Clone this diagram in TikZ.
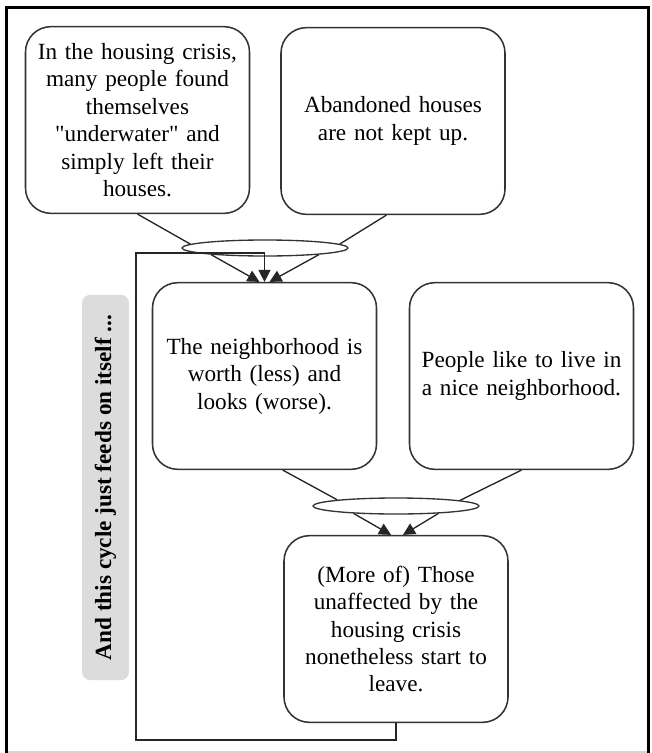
\documentclass[tikz,border=0pt]{standalone}
\usepackage{fontspec}
\setmainfont{Liberation Serif}[Ligatures=TeXOff]
\usetikzlibrary{arrows.meta,shapes.geometric,calc}
\definecolor{boxline}{HTML}{333333}
\definecolor{labelgray}{HTML}{DCDCDC}
\definecolor{edgegray}{HTML}{D6D6D6}
\begin{document}
\begin{tikzpicture}[x=0.75pt,y=-0.75pt,
  box/.style={draw=boxline, line width=1.15pt, rounded corners=19pt,
    minimum width=168pt, minimum height=140pt, text width=165pt,
    align=center, inner sep=0pt, font=\fontsize{17.4pt}{20.6pt}\selectfont},
  joint/.style={ellipse, draw=boxline, line width=1pt, fill=white,
    minimum width=124.5pt, minimum height=12pt, inner sep=0pt},
  link/.style={draw=black!85, line width=1pt},
  arr/.style={link, -{Triangle[length=9pt,width=9pt]}},
  note/.style={fill=labelgray, rounded corners=6pt, inner sep=0pt,
    minimum width=289pt, minimum height=35pt,
    font=\fontsize{17.4pt}{20.6pt}\selectfont\bfseries},
]
% canvas
\fill[white] (0,0) rectangle (651,753);
\useasboundingbox (0,0) rectangle (651,753);

% outer frame
\draw[edgegray, line width=1.2pt] (8,752) -- (647,752);
\draw[black, line width=2.25pt] (6.5,753) -- (6.5,7.5) -- (648.5,7.5) -- (648.5,753);

% side note
\node[note, rotate=90] (cyc) at (105.5,487.5) {And this cycle just feeds on itself ...};

% statements
\node[box] (A) at (137.5,120) {In the housing crisis,\\ many people found\\ themselves\\ "underwater" and\\ simply left their\\ houses.};
\node[box] (B) at (393,121) {Abandoned houses\\ are not kept up.};
\node[box] (C) at (264.5,376) {The neighborhood is\\ worth (less) and\\ looks (worse).};
\node[box] (D) at (521.5,376) {People like to live in\\ a nice neighborhood.};
\node[box] (E) at (396,629) {(More of) Those\\ unaffected by the\\ housing crisis\\ nonetheless start to\\ leave.};

% joins
\node[joint] (j1) at (265,248) {};
\node[joint] (j2) at (396,506) {};

% feedback loop from the last statement back to the first effect
\coordinate (loopturn) at (136,253);
\draw[arr] (E.south) -- ++(0,17) -| (loopturn) -| (C.north);

% first join
\draw[link] (A.south) -- (j1.177);
\draw[link] (B.266) -- (j1.3);
\draw[arr] (j1.187) -- ($(C.north)+(-5,0)$);
\draw[arr] (j1.353) -- ($(C.north)+(5,0)$);

% second join
\draw[link] (C.281) -- (j2.174);
\draw[link] (D.south) -- (j2.5.5);
\draw[arr] (j2.190) -- ($(E.north)+(-5,0)$);
\draw[arr] (j2.350) -- ($(E.north)+(7,0)$);
\end{tikzpicture}
\end{document}
